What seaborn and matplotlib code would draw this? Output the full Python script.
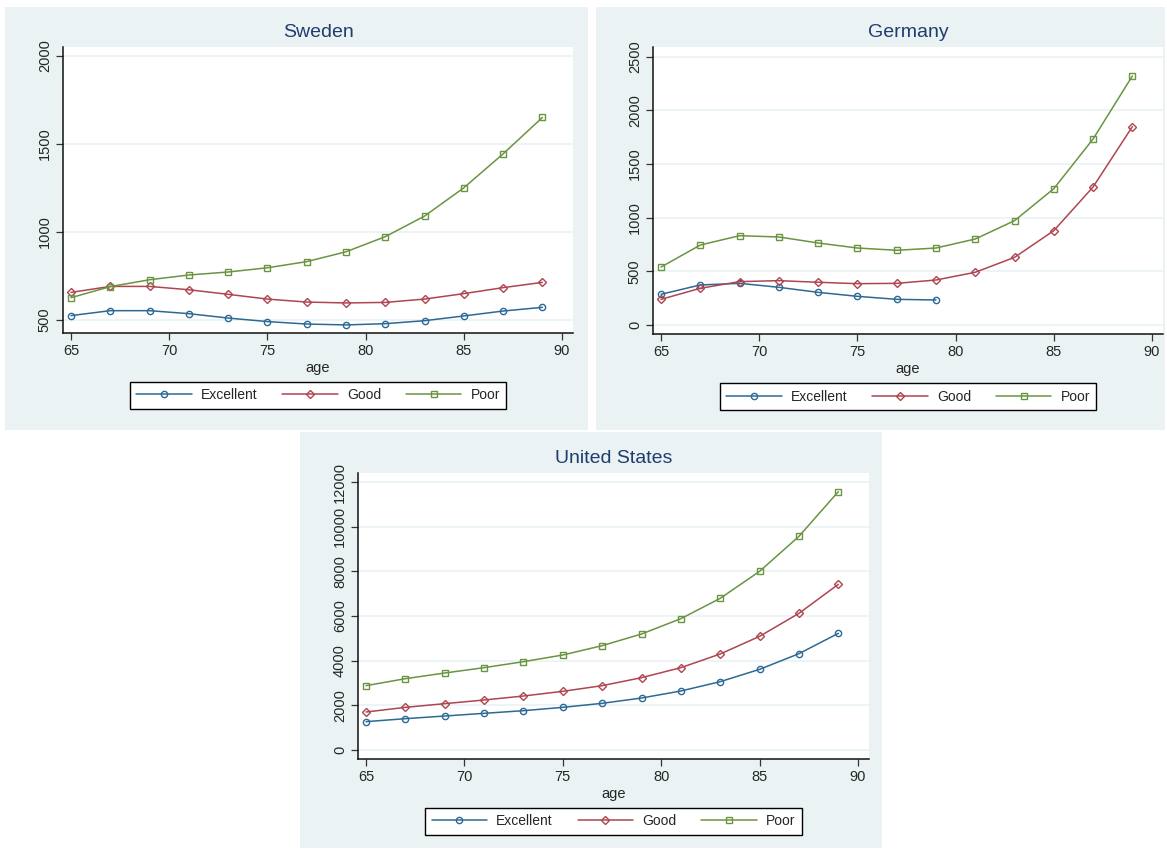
import matplotlib
matplotlib.use('Agg')
import matplotlib.pyplot as plt
import seaborn as sns
from matplotlib.patches import Rectangle

sns.set_style('white')
plt.rcParams['font.family'] = ['Liberation Sans', 'DejaVu Sans']

# Data
ages = [65, 67, 69, 71, 73, 75, 77, 79, 81, 83, 85, 87, 89]

sweden_excellent = [523, 551, 551, 534, 509, 489, 475, 470, 477, 494, 521, 549, 570]
sweden_good = [655, 689, 689, 670, 644, 617, 600, 595, 598, 617, 648, 682, 712]
sweden_poor = [625, 688, 727, 754, 771, 795, 830, 886, 972, 1089, 1250, 1443, 1650]

germany_excellent = [286, 373, 388, 351, 304, 267, 239, 233]   # ages 65-79 only
germany_good = [239, 342, 404, 413, 398, 385, 388, 419, 491, 630, 879, 1286, 1848]
germany_poor = [540, 745, 832, 820, 764, 717, 696, 717, 801, 972, 1270, 1733, 2320]

us_excellent = [1269, 1403, 1522, 1642, 1761, 1910, 2090, 2328, 2642, 3060, 3612, 4313, 5224]
us_good = [1701, 1910, 2075, 2239, 2418, 2627, 2881, 3239, 3687, 4299, 5090, 6119, 7418]
us_poor = [2881, 3194, 3448, 3687, 3955, 4254, 4672, 5194, 5881, 6791, 8000, 9567, 11567]

labels = ['Excellent', 'Good', 'Poor']
colors = ['#2C6994', '#AE4550', '#6A9441']
markers = ['o', 'D', 's']

W, H = 1167, 850
fig = plt.figure(figsize=(W / 100, H / 100), dpi=100)
fig.patch.set_facecolor('white')

panel_bg = '#EAF2F3'


def px_rect(x0, y0, x1, y1):
    # pixel box (top-left origin) -> figure fraction [l, b, w, h]
    return [x0 / W, 1 - y1 / H, (x1 - x0) / W, (y1 - y0) / H]


def draw_panel(bg_box, ax_box, title, series, yticks, ylim):
    fig.add_artist(Rectangle(px_rect(*bg_box)[:2], *px_rect(*bg_box)[2:],
                             transform=fig.transFigure, facecolor=panel_bg,
                             edgecolor='none', zorder=-1))
    ax = fig.add_axes(px_rect(*ax_box))
    ax.set_facecolor('white')
    for vals, lab, c, m in zip(series, labels, colors, markers):
        sns.lineplot(x=ages[:len(vals)], y=vals, ax=ax, color=c, marker=m,
                     markersize=4.5 if m != 'D' else 4, markerfacecolor='none',
                     markeredgecolor=c, markeredgewidth=1.0, linewidth=1.1,
                     label=lab)
    ax.set_xlim(64.59, 90.56)
    ax.set_ylim(*ylim)
    ax.set_xticks([65, 70, 75, 80, 85, 90])
    ax.set_yticks(yticks)
    ax.grid(axis='y', color=panel_bg, linewidth=1.2)
    ax.set_axisbelow(True)
    for s in ['top', 'right']:
        ax.spines[s].set_visible(False)
    for s in ['left', 'bottom']:
        ax.spines[s].set_color('#111111')
        ax.spines[s].set_linewidth(1.1)
    ax.tick_params(axis='both', direction='out', length=5, width=0.9,
                   color='#333333', labelsize=10.5, bottom=True, left=True, pad=3)
    for t in ax.get_yticklabels():
        t.set_rotation(90)
        t.set_va('center')
    ax.set_xlabel('age', fontsize=10.5, labelpad=2)
    ax.set_ylabel('')
    ax.set_title(title, fontsize=14, color='#1F3D6E', pad=7)
    ax.legend(loc='center', bbox_to_anchor=(0.5, -0.218), ncol=3, fontsize=10,
              frameon=True, fancybox=False, edgecolor='black', framealpha=1,
              handlelength=4.0, handletextpad=0.65, columnspacing=1.8,
              borderpad=0.45)
    ax.get_legend().get_frame().set_linewidth(1.0)
    return ax


draw_panel((5, 7, 588, 430), (63, 47, 573, 333), 'Sweden',
           [sweden_excellent, sweden_good, sweden_poor],
           [500, 1000, 1500, 2000], (424, 2051))
draw_panel((596, 7, 1165, 430), (653, 47, 1163, 334), 'Germany',
           [germany_excellent, germany_good, germany_poor],
           [0, 500, 1000, 1500, 2000, 2500], (-84, 2590))
draw_panel((300, 432, 882, 848), (358, 473, 869, 759), 'United States',
           [us_excellent, us_good, us_poor],
           [0, 2000, 4000, 6000, 8000, 10000, 12000], (-403, 12403))

fig.savefig('out.png', dpi=100, facecolor='white')
